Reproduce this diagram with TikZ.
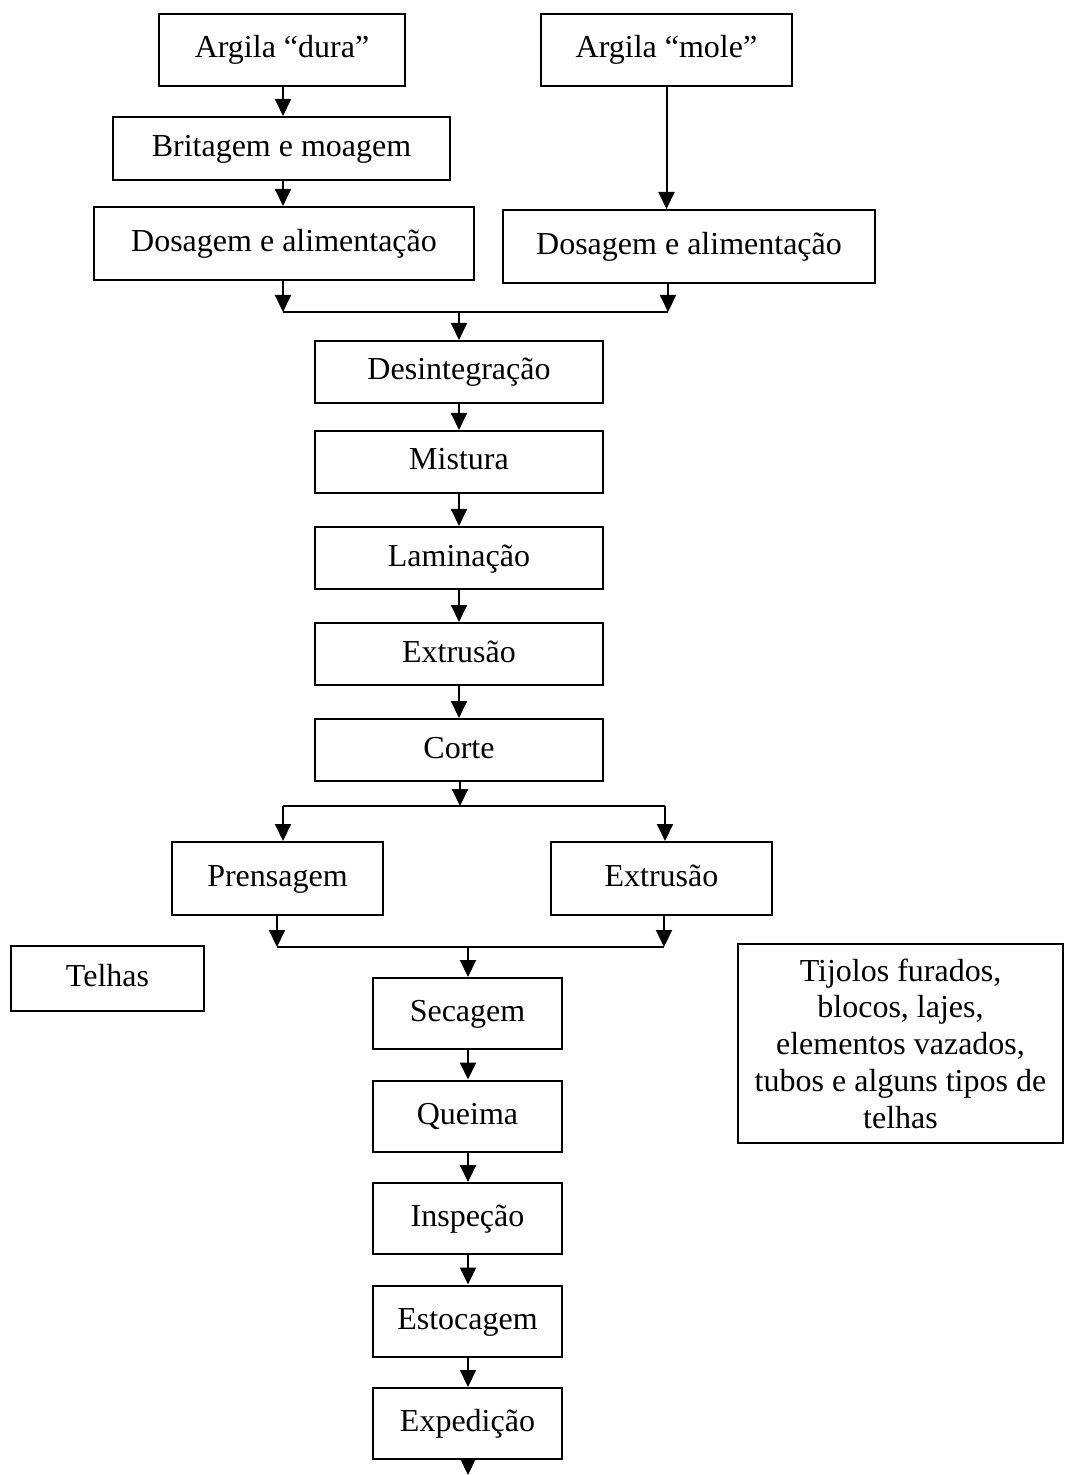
\documentclass[tikz,border=0pt]{standalone}
\usepackage{fontspec}
\setmainfont{Liberation Serif}
\usetikzlibrary{arrows.meta, positioning}

\begin{document}
\begin{tikzpicture}[
    x=0.5pt, y=-0.5pt,
    node distance=16pt,
    caixa/.style={rectangle, draw=black, line width=1pt, inner sep=2pt,
                  font=\fontsize{16}{18.4}\selectfont, align=center},
    etapa/.style={caixa, text height=12pt, text depth=4pt},
    meio/.style={etapa, minimum width=144pt, minimum height=31pt},
    fim/.style={etapa, minimum width=94.5pt, minimum height=35.5pt},
    seta/.style={line width=1pt, -{Triangle[length=8.5pt, width=8pt]}},
    linha/.style={line width=1pt},
  ]
    \useasboundingbox (0,0) rectangle (1064,1475);

    % materias-primas
    \node[etapa, minimum width=123pt, minimum height=36pt] (dura) at (282,50) {Argila ``dura''};
    \node[etapa, minimum width=125.5pt, minimum height=36pt] (mole) at (666.5,50) {Argila ``mole''};
    \node[etapa, minimum width=168.5pt, minimum height=31.5pt] (brit) at (281.5,148.5) {Britagem e moagem};
    \node[etapa, minimum width=190pt, minimum height=36.5pt] (dosL) at (284,243.5) {Dosagem e alimentação};
    \node[etapa, minimum width=186pt, minimum height=36.5pt] (dosR) at (689,246.5) {Dosagem e alimentação};

    % coluna central
    \node[meio] (desint) at (459,372) {Desintegração};
    \node[meio, below=13pt of desint] (mist) {Mistura};
    \node[meio, below=of mist] (lam) {Laminação};
    \node[meio, below=of lam] (ext) {Extrusão};
    \node[meio, below=of ext] (corte) {Corte};

    % conformacao
    \node[etapa, minimum width=105.5pt, minimum height=36.5pt] (prens) at (277.5,878.5) {Prensagem};
    \node[etapa, minimum width=110.5pt, minimum height=36.5pt] (extB) at (661.5,878.5) {Extrusão};
    \node[etapa, minimum width=96.5pt, minimum height=32.5pt] (telhas) at (107.5,978.5) {Telhas};
    \node[caixa, minimum width=162.5pt, minimum height=99.5pt] (tijolos) at (900.5,1043.5)
      {Tijolos furados,\\ blocos, lajes,\\ elementos vazados,\\ tubos e alguns tipos de\\ telhas};

    % coluna final
    \node[fim] (sec) at (467.5,1013.5) {Secagem};
    \node[fim, below=14.75pt of sec] (queima) {Queima};
    \node[fim, below=14.75pt of queima] (insp) {Inspeção};
    \node[fim, below=14.75pt of insp] (estoc) {Estocagem};
    \node[fim, below=14.75pt of estoc] (exped) {Expedição};

    % juncoes
    \coordinate (jaL) at (283,312);
    \coordinate (jaR) at (668,312);
    \coordinate (ja) at (459,312);
    \coordinate (jbL) at (283,806);
    \coordinate (jbR) at (665,806);
    \coordinate (jb) at (460,806);
    \coordinate (jcL) at (277,947);
    \coordinate (jcR) at (664,947);
    \coordinate (jc) at (468,947);
    \coordinate (saida) at (468,1475);

    \draw[seta] (dura.south -| jaL) -- (brit.north -| jaL);
    \draw[seta] (brit.south -| jaL) -- (dosL.north -| jaL);
    \draw[seta] (mole.south) -- (mole.south |- dosR.north);
    \draw[seta] (dosL.south -| jaL) -- (jaL);
    \draw[seta] (dosR.south -| jaR) -- (jaR);
    \draw[linha] (jaL) -- (jaR);
    \draw[seta] (ja) -- (desint.north -| ja);

    \draw[seta] (desint.south -| ja) -- (mist.north -| ja);
    \draw[seta] (mist.south -| ja) -- (lam.north -| ja);
    \draw[seta] (lam.south -| ja) -- (ext.north -| ja);
    \draw[seta] (ext.south -| ja) -- (corte.north -| ja);
    \draw[seta] (corte.south -| jb) -- (jb);
    \draw[linha] (jbL) -- (jbR);
    \draw[seta] (jbL) -- (prens.north -| jbL);
    \draw[seta] (jbR) -- (extB.north -| jbR);

    \draw[seta] (prens.south -| jcL) -- (jcL);
    \draw[seta] (extB.south -| jcR) -- (jcR);
    \draw[linha] (jcL) -- (jcR);
    \draw[seta] (jc) -- (sec.north -| jc);
    \draw[seta] (sec.south -| jc) -- (queima.north -| jc);
    \draw[seta] (queima.south -| jc) -- (insp.north -| jc);
    \draw[seta] (insp.south -| jc) -- (estoc.north -| jc);
    \draw[seta] (estoc.south -| jc) -- (exped.north -| jc);
    \draw[seta] (exped.south -| jc) -- (saida);
\end{tikzpicture}
\end{document}
